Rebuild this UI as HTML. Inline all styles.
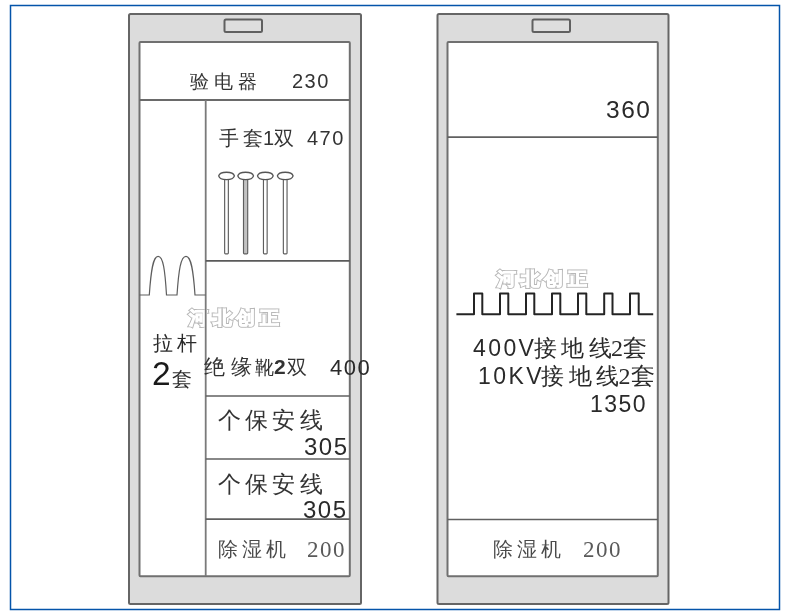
<!DOCTYPE html>
<html><head><meta charset="utf-8">
<style>
html,body{margin:0;padding:0;background:#fff;width:790px;height:615px;overflow:hidden}
body{position:relative;font-family:"Liberation Sans",sans-serif;color:#2a2a2a}
svg{position:absolute;left:0;top:0}
.t{position:absolute;white-space:nowrap;line-height:1;will-change:transform}
.s{font-family:"Liberation Serif",serif}
</style></head><body>
<svg width="790" height="615" viewBox="0 0 790 615">
  <rect x="10.5" y="5.5" width="769" height="604" fill="none" stroke="#0454aa" stroke-width="1.5"/>
  <!-- left cabinet -->
  <rect x="129" y="14" width="232" height="590" rx="1.5" fill="#dcdcdc" stroke="#666" stroke-width="2"/>
  <rect x="224.5" y="19.5" width="37.5" height="12.5" rx="1.5" fill="#dedede" stroke="#606060" stroke-width="2"/>
  <rect x="139.5" y="42" width="210.3" height="534.3" rx="1" fill="#fff" stroke="#707070" stroke-width="2"/>
  <g fill="none">
    <line x1="139.5" y1="100" x2="349.8" y2="100" stroke="#6a6a6a" stroke-width="2"/>
    <line x1="205.7" y1="100" x2="205.7" y2="576" stroke="#7a7a7a" stroke-width="1.8"/>
    <line x1="205.7" y1="260.9" x2="349.8" y2="260.9" stroke="#5a5a5a" stroke-width="1.7"/>
    <line x1="205.7" y1="396" x2="349.8" y2="396" stroke="#606060" stroke-width="1.7"/>
    <line x1="205.7" y1="459" x2="349.8" y2="459" stroke="#606060" stroke-width="1.7"/>
    <line x1="205.7" y1="519.1" x2="349.8" y2="519.1" stroke="#606060" stroke-width="1.7"/>
  </g>
  <!-- arches -->
  <path d="M139.5 295 H149.3 C151 270 153 256.3 158.1 256.3 C163.2 256.3 165 270 166.5 295 H177 C178.7 270 180.7 256.3 186 256.3 C191.2 256.3 193.3 270 195 295 H205.7" fill="none" stroke="#5e5e5e" stroke-width="1.2"/>
  <!-- pins -->
  <g stroke="#5e5e5e" stroke-width="1.15">
    <rect x="224.65" y="179" width="3.7" height="74.8" rx="0.8" fill="#fff"/>
    <rect x="243.50" y="179" width="4.2" height="74.8" rx="0.8" fill="#c2c2c2"/>
    <rect x="263.45" y="179" width="3.7" height="74.8" rx="0.8" fill="#fff"/>
    <rect x="283.35" y="179" width="3.7" height="74.8" rx="0.8" fill="#fff"/>
  </g>
  <g stroke="#555" stroke-width="1.35" fill="#fff">
    <path d="M218.7 175.9 C219.3 173.3 222.3 172.2 226.5 172.2 C230.7 172.2 233.7 173.3 234.4 175.9 C233.7 178.5 230.7 179.6 226.5 179.6 C222.3 179.6 219.3 178.5 218.7 175.9 Z"/>
    <path d="M237.8 175.9 C238.4 173.3 241.4 172.2 245.6 172.2 C249.8 172.2 252.8 173.3 253.5 175.9 C252.8 178.5 249.8 179.6 245.6 179.6 C241.4 179.6 238.4 178.5 237.8 175.9 Z"/>
    <path d="M257.5 175.9 C258.1 173.3 261.1 172.2 265.3 172.2 C269.5 172.2 272.5 173.3 273.2 175.9 C272.5 178.5 269.5 179.6 265.3 179.6 C261.1 179.6 258.1 178.5 257.5 175.9 Z"/>
    <path d="M277.4 175.9 C278.0 173.3 281.0 172.2 285.2 172.2 C289.4 172.2 292.4 173.3 293.1 175.9 C292.4 178.5 289.4 179.6 285.2 179.6 C281.0 179.6 278.0 178.5 277.4 175.9 Z"/>
  </g>
  <!-- right cabinet -->
  <rect x="437.5" y="14" width="231" height="590" rx="1.5" fill="#dcdcdc" stroke="#666" stroke-width="2"/>
  <rect x="532.5" y="19.5" width="37.5" height="12.5" rx="1.5" fill="#dedede" stroke="#606060" stroke-width="2"/>
  <rect x="447.5" y="42" width="210.3" height="534.3" rx="1" fill="#fff" stroke="#707070" stroke-width="2"/>
  <g stroke="#606060" stroke-width="1.7" fill="none">
    <line x1="447.5" y1="137.1" x2="657.8" y2="137.1"/>
    <line x1="447.5" y1="519.5" x2="657.8" y2="519.5"/>
  </g>
  <path d="M456.4 314.3 H474 V293.5 H482.3 V314.3 H500 V293.5 H508.3 V314.3 H526 V293.5 H534.3 V314.3 H552 V293.5 H560.3 V314.3 H578 V293.5 H586.3 V314.3 H604.2 V293.5 H612.5 V314.3 H630 V293.5 H638.7 V314.3 H653.2" fill="none" stroke="#242424" stroke-width="2" stroke-linejoin="round"/>
</svg>

<div class="t" id="t0" style="left:190.00px;top:72.00px;font-size:19px;letter-spacing:5px;color:#333">验电器</div>
<div class="t" id="t1" style="left:291.80px;top:70.60px;font-size:20px;letter-spacing:1.5px;color:#333">230</div>
<div class="t" id="t2" style="left:219.40px;top:128.00px;font-size:20px;color:#333"><span style='letter-spacing:4px'>手</span>套1双</div>
<div class="t" id="t3" style="left:307.00px;top:128.00px;font-size:20px;letter-spacing:1.5px;color:#333">470</div>
<div class="t" id="t4" style="left:153.00px;top:333.40px;font-size:20px;letter-spacing:3.5px;color:#2a2a2a">拉杆</div>
<div class="t" id="t5" style="left:152.00px;top:356.80px;font-size:33.5px;color:#1a1a1a">2</div>
<div class="t" id="t6" style="left:171.80px;top:369.00px;font-size:20px;color:#2a2a2a">套</div>
<div class="t" id="t7" style="left:203.60px;top:355.80px;font-size:21px;color:#333"><span style='letter-spacing:6px'>绝</span><span style='letter-spacing:3px'>缘</span><span style='font-size:19px'>靴</span><span style='font-size:21px;font-weight:bold;letter-spacing:1.5px'>2</span><span style='font-size:19.5px'>双</span></div>
<div class="t" id="t8" style="left:329.80px;top:357.00px;font-size:22px;letter-spacing:1.5px;color:#2a2a2a">400</div>
<div class="t" id="t9" style="left:218.20px;top:408.80px;font-size:23px;letter-spacing:4.2px;color:#333">个保安线</div>
<div class="t" id="t10" style="left:304.00px;top:435.00px;font-size:24px;letter-spacing:1.5px;color:#2a2a2a">305</div>
<div class="t" id="t11" style="left:218.00px;top:472.60px;font-size:23px;letter-spacing:4.2px;color:#333">个保安线</div>
<div class="t" id="t12" style="left:303.40px;top:498.00px;font-size:24px;letter-spacing:1.5px;color:#2a2a2a">305</div>
<div class="t" id="t13" style="left:218.00px;top:538.80px;font-size:20px;letter-spacing:4px;color:#4a4a4a">除湿机</div>
<div class="t" id="t14" style="left:307.40px;top:538.00px;font-family:'Liberation Serif',serif;font-size:23px;letter-spacing:1.5px;color:#5a5a5a">200</div>
<div class="t" id="t15" style="left:605.60px;top:97.60px;font-size:24.5px;letter-spacing:1.5px;color:#2a2a2a">360</div>
<div class="t" id="t16" style="left:472.60px;top:335.60px;font-size:23px;color:#2a2a2a"><span style='letter-spacing:2.4px'>400</span>V<span style='font-size:22.5px;letter-spacing:4.5px'>接地</span><span style='font-size:22.5px;letter-spacing:-1px'>线</span><span class='s' style='font-size:24px;letter-spacing:0.5px'>2</span><span style='font-size:24px'>套</span></div>
<div class="t" id="t17" style="left:478.40px;top:364.00px;font-size:23px;color:#2a2a2a"><span style='letter-spacing:2.4px'>10K</span>V<span style='font-size:22.5px;letter-spacing:4.5px'>接地</span><span style='font-size:22.5px;letter-spacing:-1px'>线</span><span class='s' style='font-size:24px;letter-spacing:0.5px'>2</span><span style='font-size:24px'>套</span></div>
<div class="t" id="t18" style="left:589.80px;top:392.60px;font-size:23px;letter-spacing:1.5px;color:#2a2a2a">1350</div>
<div class="t" id="t19" style="left:492.80px;top:538.60px;font-size:20px;letter-spacing:4px;color:#4a4a4a">除湿机</div>
<div class="t" id="t20" style="left:583.00px;top:537.80px;font-family:'Liberation Serif',serif;font-size:23px;letter-spacing:1.5px;color:#5a5a5a">200</div>
<div class="t" id="t21" style="left:189.20px;top:310.00px;font-size:17.5px;font-weight:bold;letter-spacing:4.4px;color:#b8b8b8;-webkit-text-stroke:2.8px #b8b8b8;transform:scaleX(1.05);transform-origin:0 0;mix-blend-mode:darken">河北创正<span style='position:absolute;left:0;top:0;color:#fff;-webkit-text-stroke:0.9px #fff'>河北创正</span></div>
<div class="t" id="t22" style="left:497.40px;top:271.00px;font-size:17.5px;font-weight:bold;letter-spacing:4.4px;color:#b8b8b8;-webkit-text-stroke:2.8px #b8b8b8;transform:scaleX(1.05);transform-origin:0 0;mix-blend-mode:darken">河北创正<span style='position:absolute;left:0;top:0;color:#fff;-webkit-text-stroke:0.9px #fff'>河北创正</span></div>
</body></html>
